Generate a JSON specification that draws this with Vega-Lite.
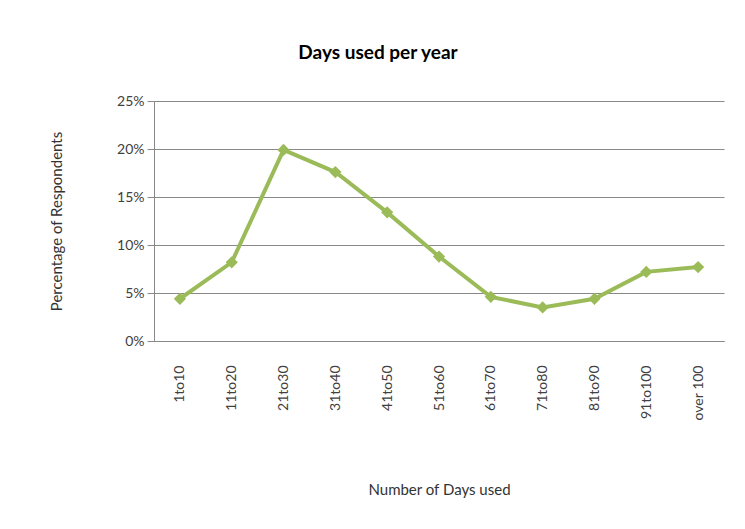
{
  "$schema": "https://vega.github.io/schema/vega-lite/v6.json",
  "autosize": "none",
  "width": 570,
  "height": 240,
  "padding": {"left": 154, "top": 101, "right": 21, "bottom": 188},
  "background": "white",
  "title": {
    "text": "Days used per year",
    "anchor": "middle",
    "dx": -61,
    "offset": 31,
    "font": "Lato",
    "fontSize": 19,
    "fontWeight": "bold",
    "color": "#000000"
  },
  "data": {
    "values": [
      {"range": "1to10", "pct": 0.044},
      {"range": "11to20", "pct": 0.082},
      {"range": "21to30", "pct": 0.199},
      {"range": "31to40", "pct": 0.176},
      {"range": "41to50", "pct": 0.134},
      {"range": "51to60", "pct": 0.088},
      {"range": "61to70", "pct": 0.046},
      {"range": "71to80", "pct": 0.035},
      {"range": "81to90", "pct": 0.044},
      {"range": "91to100", "pct": 0.072},
      {"range": "over 100", "pct": 0.077}
    ]
  },
  "encoding": {
    "x": {
      "field": "range",
      "type": "ordinal",
      "sort": null,
      "scale": {"paddingInner": 0, "paddingOuter": 0.5},
      "axis": {
        "title": "Number of Days used",
        "labelAngle": -90,
        "labelAlign": "right",
        "labelBaseline": "middle",
        "labelPadding": 24,
        "ticks": false,
        "domainColor": "#888888",
        "labelFont": "Lato",
        "labelFontSize": 14,
        "labelColor": "#404040",
        "titleFont": "Lato",
        "titleFontSize": 15,
        "titleFontWeight": "normal",
        "titleColor": "#333333",
        "titlePadding": 62
      }
    },
    "y": {
      "field": "pct",
      "type": "quantitative",
      "scale": {"domain": [0, 0.25]},
      "axis": {
        "title": "Percentage of Respondents",
        "format": ".0%",
        "values": [0, 0.05, 0.1, 0.15, 0.2, 0.25],
        "tickSize": 7,
        "tickColor": "#888888",
        "domainColor": "#888888",
        "gridColor": "#888888",
        "gridWidth": 1,
        "labelPadding": 3,
        "labelFont": "Lato",
        "labelFontSize": 14,
        "labelColor": "#404040",
        "titleFont": "Lato",
        "titleFontSize": 15,
        "titleFontWeight": "normal",
        "titleColor": "#333333",
        "titlePadding": 52
      }
    }
  },
  "layer": [
    {
      "mark": {"type": "line", "color": "#9BBB59", "strokeWidth": 4}
    },
    {
      "mark": {"type": "point", "shape": "diamond", "filled": true, "color": "#9BBB59", "opacity": 1, "size": 150}
    }
  ],
  "config": {"view": {"stroke": null}}
}
